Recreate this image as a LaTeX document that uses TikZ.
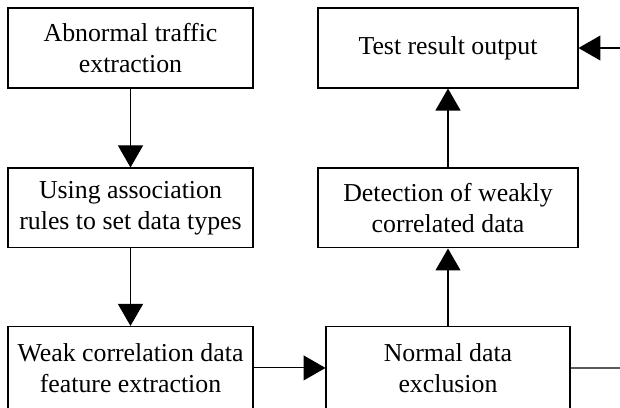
\documentclass[tikz,border=0pt]{standalone}
\usepackage{fontspec}
\setmainfont{Liberation Serif}
\usetikzlibrary{arrows.meta}

\begin{document}
\begin{tikzpicture}[x=0.02cm, y=-0.02cm, node distance=3.2cm, line width=0.6pt,
                    >={Triangle[length=0.44cm,width=0.5cm]},
                    step box/.style={rectangle,draw,align=center,minimum height=1.6cm,
                                     font=\fontsize{14.7}{17.8}\selectfont},
                    left box/.style={step box,minimum width=4.9cm},
                    right box/.style={step box,minimum width=5.2cm}]

  \clip (0,0) rectangle (620,407);

  \node[left box] (abnormal) at (130.5,48) {Abnormal traffic\\extraction};
  \node[left box] (rules) [below of=abnormal] {Using association\\rules to set data types};
  \node[left box, minimum height=1.66cm] (weak) [below of=rules] {Weak correlation data\\feature extraction};

  \node[right box] (result) at (448,48) {Test result output};
  \node[right box] (detect) [below of=result] {Detection of weakly\\correlated data};
  \node[step box, minimum width=4.88cm, minimum height=1.66cm] (normal) [below of=detect] {Normal data\\exclusion};

  \coordinate (feedin) at (620,48);
  \coordinate (feedout) at (620,368);

  \draw[->] (abnormal) -- (rules);
  \draw[->] (rules) -- (weak);
  \draw[->] (weak) -- (normal);
  \draw[->] (normal) -- (detect);
  \draw[->] (detect) -- (result);
  \draw (normal) -- (feedout);
  \draw[->] (feedin) -- (result);
\end{tikzpicture}
\end{document}
